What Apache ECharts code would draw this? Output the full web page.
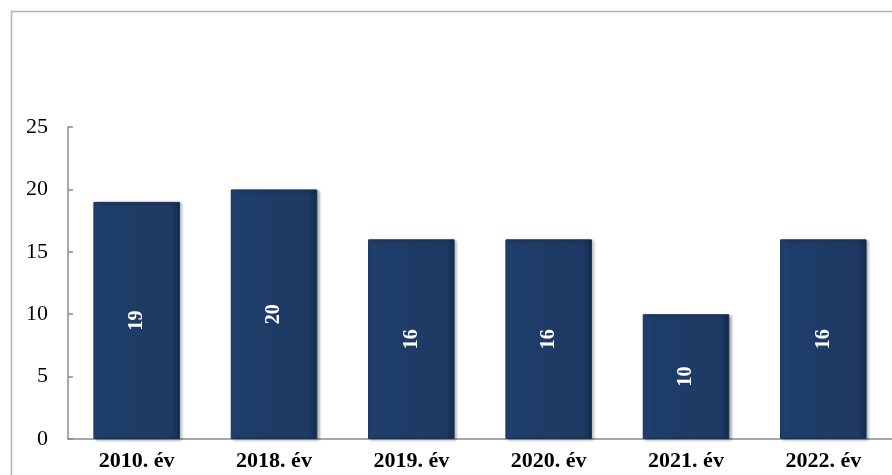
<!DOCTYPE html>
<html><head><meta charset="utf-8">
<script src="https://cdn.jsdelivr.net/npm/echarts@6/dist/echarts.min.js"></script>
<style>html,body{margin:0;padding:0;background:#fff}#c{width:892px;height:475px}</style>
</head><body><div id="c"></div>
<script>
const categories = ['2010. év','2018. év','2019. év','2020. év','2021. év','2022. év'];
const values = [19, 20, 16, 16, 10, 16];
const yTicks = [0, 5, 10, 15, 20, 25];

const chart = echarts.init(document.getElementById('c'), null, {renderer:'canvas'});
const font = '"Liberation Serif","Times New Roman",serif';
chart.setOption({
  animation:false,
  graphic:[{type:'rect', shape:{x:11.5,y:11.5,width:900,height:500}, style:{fill:'none',stroke:'#b3b3b3',lineWidth:1.5}, silent:true}],
  grid:{left:68, right:0, top:127, bottom:36, containLabel:false},
  xAxis:{type:'category', data:categories,
    axisLine:{lineStyle:{color:'#8c8c8c', width:1.5}},
    axisTick:{show:false},
    axisLabel:{fontFamily:font, fontWeight:'bold', fontSize:22, color:'#000', margin:11}},
  yAxis:{type:'value', min:yTicks[0], max:yTicks[yTicks.length-1], interval:5,
    splitLine:{show:false},
    axisLine:{show:true, lineStyle:{color:'#8c8c8c', width:1.5}},
    axisTick:{show:true, inside:true, length:5, lineStyle:{color:'#8c8c8c', width:1.5}},
    axisLabel:{fontFamily:font, fontSize:22, color:'#000', margin:20}},
  series:[{type:'bar', data:values, barWidth:'63%',
    itemStyle:{
      color:new echarts.graphic.LinearGradient(0,0,1,0,[
        {offset:0,color:'#25467a'},{offset:0.1,color:'#1f3d6a'},{offset:0.9,color:'#1e3a64'},{offset:1,color:'#132a4c'}]),
      borderColor:'#17325a', borderWidth:1,
      shadowColor:'rgba(0,0,0,0.35)', shadowBlur:3, shadowOffsetX:2, shadowOffsetY:1},
    label:{show:true, position:'inside', rotate:90, color:'#fff', fontFamily:font, fontWeight:'bold', fontSize:20}
  }]
});
</script></body></html>
